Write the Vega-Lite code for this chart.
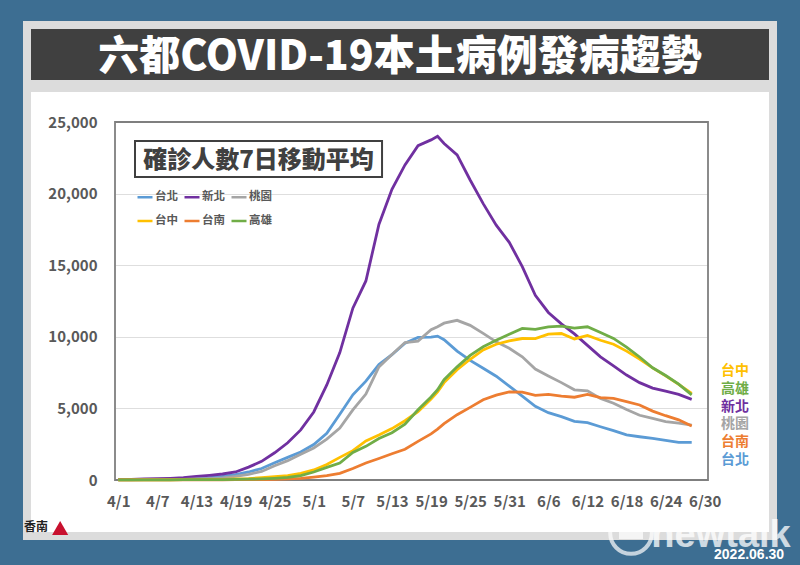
{
  "$schema": "https://vega.github.io/schema/vega-lite/v6.json",
  "background": "#3d6e92",
  "padding": {"left": 19, "top": 21, "right": 40, "bottom": 40},
  "spacing": -8,
  "config": {"font": "Noto Sans CJK TC", "view": {"stroke": null}},
  "datasets": {
    "series": [
      {"d":"2022-04-01","台北":20,"新北":30,"桃園":10,"台中":5,"台南":5,"高雄":10},
      {"d":"2022-04-03","台北":30,"新北":50,"桃園":15,"台中":5,"台南":5,"高雄":10},
      {"d":"2022-04-05","台北":40,"新北":70,"桃園":20,"台中":10,"台南":5,"高雄":10},
      {"d":"2022-04-07","台北":50,"新北":100,"桃園":30,"台中":10,"台南":5,"高雄":15},
      {"d":"2022-04-09","台北":60,"新北":120,"桃園":40,"台中":15,"台南":5,"高雄":15},
      {"d":"2022-04-11","台北":80,"新北":160,"桃園":50,"台中":20,"台南":10,"高雄":20},
      {"d":"2022-04-13","台北":120,"新北":250,"桃園":70,"台中":25,"台南":10,"高雄":20},
      {"d":"2022-04-15","台北":170,"新北":330,"桃園":100,"台中":35,"台南":10,"高雄":25},
      {"d":"2022-04-17","台北":250,"新北":420,"桃園":150,"台中":50,"台南":15,"高雄":30},
      {"d":"2022-04-19","台北":370,"新北":560,"桃園":260,"台中":70,"台南":20,"高雄":40},
      {"d":"2022-04-21","台北":560,"新北":900,"桃園":400,"台中":100,"台南":25,"高雄":55},
      {"d":"2022-04-23","台北":800,"新北":1300,"桃園":600,"台中":160,"台南":35,"高雄":80},
      {"d":"2022-04-25","台北":1210,"新北":1900,"桃園":1000,"台中":230,"台南":50,"高雄":120},
      {"d":"2022-04-27","台北":1580,"新北":2600,"桃園":1350,"台中":300,"台南":80,"高雄":180},
      {"d":"2022-04-29","台北":1950,"新北":3500,"桃園":1800,"台中":470,"台南":120,"高雄":300},
      {"d":"2022-05-01","台北":2480,"新北":4750,"桃園":2240,"台中":700,"台南":200,"高雄":560},
      {"d":"2022-05-03","台北":3260,"新北":6640,"桃園":2850,"台中":1080,"台南":300,"高雄":880},
      {"d":"2022-05-05","台北":4590,"新北":8900,"桃園":3620,"台中":1580,"台南":460,"高雄":1180},
      {"d":"2022-05-07","台北":5950,"新北":12000,"桃園":4900,"台中":2050,"台南":800,"高雄":1920},
      {"d":"2022-05-09","台北":6900,"新北":13900,"桃園":6000,"台中":2730,"台南":1190,"高雄":2350},
      {"d":"2022-05-11","台北":8060,"新北":17850,"桃園":7900,"台中":3140,"台南":1500,"高雄":2900},
      {"d":"2022-05-13","台北":8750,"新北":20300,"桃園":8770,"台中":3590,"台南":1830,"高雄":3300},
      {"d":"2022-05-15","台北":9550,"新北":22000,"桃園":9600,"台中":4140,"台南":2150,"高雄":3900},
      {"d":"2022-05-17","台北":9960,"新北":23350,"桃園":9700,"台中":4780,"台南":2700,"高雄":4900},
      {"d":"2022-05-19","台北":9980,"新北":23750,"桃園":10500,"台中":5660,"台南":3220,"高雄":5800},
      {"d":"2022-05-20","台北":10050,"新北":24000,"桃園":10700,"台中":6150,"台南":3550,"高雄":6300},
      {"d":"2022-05-21","台北":9800,"新北":23500,"桃園":10950,"台中":6800,"台南":3930,"高雄":7000},
      {"d":"2022-05-23","台北":9000,"新北":22700,"桃園":11150,"台中":7700,"台南":4560,"高雄":7900},
      {"d":"2022-05-25","台北":8350,"新北":20950,"桃園":10800,"台中":8430,"台南":5070,"高雄":8700},
      {"d":"2022-05-27","台北":7800,"新北":19300,"桃園":10240,"台中":9080,"台南":5600,"高雄":9300},
      {"d":"2022-05-29","台北":7250,"新北":17800,"桃園":9650,"台中":9480,"台南":5930,"高雄":9760},
      {"d":"2022-05-31","台北":6550,"新北":16600,"桃園":9200,"台中":9720,"台南":6150,"高雄":10180},
      {"d":"2022-06-02","台北":5850,"新北":14900,"桃園":8600,"台中":9880,"台南":6130,"高雄":10590},
      {"d":"2022-06-04","台北":5150,"新北":12900,"桃園":7750,"台中":9870,"台南":5910,"高雄":10520},
      {"d":"2022-06-06","台北":4700,"新北":11700,"桃園":7270,"台中":10180,"台南":5980,"高雄":10700},
      {"d":"2022-06-08","台北":4430,"新北":10900,"桃園":6800,"台中":10230,"台南":5860,"高雄":10740},
      {"d":"2022-06-10","台北":4100,"新北":10200,"桃園":6300,"台中":9850,"台南":5780,"高雄":10600},
      {"d":"2022-06-12","台北":4000,"新北":9400,"桃園":6230,"台中":10100,"台南":5980,"高雄":10700},
      {"d":"2022-06-14","台北":3720,"新北":8600,"桃園":5700,"台中":9760,"台南":5750,"高雄":10300},
      {"d":"2022-06-16","台北":3450,"新北":7970,"桃園":5360,"台中":9480,"台南":5700,"高雄":9890},
      {"d":"2022-06-18","台北":3150,"新北":7330,"桃園":4920,"台中":9000,"台南":5470,"高雄":9280},
      {"d":"2022-06-20","台北":3020,"新北":6800,"桃園":4520,"台中":8450,"台南":5240,"高雄":8590},
      {"d":"2022-06-22","台北":2900,"新北":6420,"桃園":4300,"台中":7830,"台南":4810,"高雄":7840},
      {"d":"2022-06-24","台北":2770,"新北":6200,"桃園":4080,"台中":7270,"台南":4490,"高雄":7300},
      {"d":"2022-06-26","台北":2630,"新北":5980,"桃園":3970,"台中":6680,"台南":4200,"高雄":6700},
      {"d":"2022-06-28","台北":2630,"新北":5630,"桃園":3840,"台中":6050,"台南":3770,"高雄":5940}
    ],
    "labels": [
      {"city":"台中"},{"city":"高雄"},{"city":"新北"},{"city":"桃園"},{"city":"台南"},{"city":"台北"}
    ]
  },
  "vconcat": [
    {
      "width": 746,
      "height": 59,
      "view": {"fill": "#404040", "stroke": "#dcdcdc", "strokeWidth": 8},
      "data": {"values": [{"t": "六都COVID-19本土病例發病趨勢"}]},
      "mark": {"type": "text", "fontSize": 41, "fontWeight": 900, "color": "#ffffff", "font": "Noto Sans CJK TC", "baseline": "middle", "align": "center", "dy": 3},
      "encoding": {"text": {"field": "t", "type": "nominal"}}
    },
    {
      "width": 746,
      "height": 448,
      "view": {"fill": "#ffffff", "stroke": "#dcdcdc", "strokeWidth": 8},
      "resolve": {"scale": {"y": "independent"}},
      "layer": [
        {
          "layer": [
            {
              "data": {"values": [{}]},
              "mark": {"type": "rect", "fill": "#ffffff", "fillOpacity": 0, "stroke": "#7f7f7f", "strokeWidth": 1.8},
              "encoding": {
                "x": {"datum": {"year": 2022, "month": 3, "date": 31, "hours": 12, "utc": true}, "type": "temporal"},
                "x2": {"datum": {"year": 2022, "month": 6, "date": 30, "hours": 12, "utc": true}},
                "y": {"datum": 0, "type": "quantitative"},
                "y2": {"datum": 25000}
              }
            },
            {
              "data": {"name": "series"},
              "transform": [{"fold": ["台北", "新北", "桃園", "台中", "台南", "高雄"], "as": ["city", "v"]}],
              "mark": {"type": "line", "strokeWidth": 2.8},
              "encoding": {
                "x": {
                  "field": "d", "type": "temporal",
                  "scale": {
                    "type": "utc",
                    "domain": [
                      {"year": 2022, "month": 3, "date": 31, "hours": 12, "utc": true},
                      {"year": 2022, "month": 6, "date": 30, "hours": 12, "utc": true}
                    ],
                    "range": [88, 681]
                  },
                  "axis": {
                    "orient": "bottom", "offset": -56, "title": null,
                    "values": [
                      {"year": 2022, "month": 4, "date": 1, "utc": true},
                      {"year": 2022, "month": 4, "date": 7, "utc": true},
                      {"year": 2022, "month": 4, "date": 13, "utc": true},
                      {"year": 2022, "month": 4, "date": 19, "utc": true},
                      {"year": 2022, "month": 4, "date": 25, "utc": true},
                      {"year": 2022, "month": 5, "date": 1, "utc": true},
                      {"year": 2022, "month": 5, "date": 7, "utc": true},
                      {"year": 2022, "month": 5, "date": 13, "utc": true},
                      {"year": 2022, "month": 5, "date": 19, "utc": true},
                      {"year": 2022, "month": 5, "date": 25, "utc": true},
                      {"year": 2022, "month": 5, "date": 31, "utc": true},
                      {"year": 2022, "month": 6, "date": 6, "utc": true},
                      {"year": 2022, "month": 6, "date": 12, "utc": true},
                      {"year": 2022, "month": 6, "date": 18, "utc": true},
                      {"year": 2022, "month": 6, "date": 24, "utc": true},
                      {"year": 2022, "month": 6, "date": 30, "utc": true}
                    ],
                    "format": "%-m/%-d",
                    "grid": false, "ticks": false, "domain": false,
                    "labelFlush": false, "labelOverlap": false,
                    "labelPadding": 14, "labelFontSize": 15, "labelFontWeight": "bold",
                    "labelColor": "#595959", "labelFont": "Noto Sans CJK TC"
                  }
                },
                "y": {
                  "field": "v", "type": "quantitative",
                  "scale": {"domain": [0, 25000], "range": [392, 34], "nice": false},
                  "axis": {
                    "orient": "left", "offset": -88, "title": null,
                    "values": [0, 5000, 10000, 15000, 20000, 25000],
                    "format": ",d",
                    "grid": true, "gridColor": "#dedede", "gridWidth": 1,
                    "ticks": false, "domain": false,
                    "labelPadding": 18, "labelFontSize": 15, "labelFontWeight": "bold",
                    "labelColor": "#595959", "labelFont": "Noto Sans CJK TC"
                  }
                },
                "color": {
                  "field": "city", "type": "nominal",
                  "scale": {
                    "domain": ["台北", "新北", "桃園", "台中", "台南", "高雄"],
                    "range": ["#5b9bd5", "#7030a0", "#a5a5a5", "#ffc000", "#ed7d31", "#70ad47"]
                  },
                  "legend": {
                    "orient": "none", "legendX": 109, "legendY": 163,
                    "direction": "horizontal", "columns": 3, "title": null,
                    "symbolType": "stroke", "symbolSize": 225, "symbolStrokeWidth": 2.5,
                    "labelFontSize": 11.5, "labelFontWeight": "bold", "labelColor": "#595959",
                    "labelFont": "Noto Sans CJK TC", "labelOffset": 1,
                    "columnPadding": 1, "rowPadding": 9
                  }
                }
              }
            },
            {
              "data": {"values": [{}]},
              "mark": {"type": "rect", "fill": "#ffffff", "stroke": "#404040", "strokeWidth": 2},
              "encoding": {
                "x": {"datum": {"year": 2022, "month": 4, "date": 3, "hours": 13, "minutes": 40, "utc": true}, "type": "temporal"},
                "x2": {"datum": {"year": 2022, "month": 5, "date": 11, "hours": 11, "minutes": 30, "utc": true}},
                "y": {"datum": 23673, "type": "quantitative"},
                "y2": {"datum": 21159}
              }
            },
            {
              "data": {"values": [{"t": "確診人數7日移動平均"}]},
              "mark": {"type": "text", "fontSize": 24, "fontWeight": 900, "color": "#404040", "font": "Noto Sans CJK TC", "align": "center", "baseline": "middle", "dy": 1},
              "encoding": {
                "x": {"datum": {"year": 2022, "month": 4, "date": 22, "hours": 12, "minutes": 30, "utc": true}, "type": "temporal"},
                "y": {"datum": 22380, "type": "quantitative"},
                "text": {"field": "t"}
              }
            },
            {
              "data": {"values": [{"t": "香南"}]},
              "mark": {"type": "text", "fontSize": 12, "fontWeight": "bold", "color": "#222222", "font": "Noto Sans CJK TC", "align": "center", "baseline": "middle"},
              "encoding": {
                "x": {"datum": {"year": 2022, "month": 3, "date": 19, "hours": 9, "utc": true}, "type": "temporal"},
                "y": {"datum": -3282, "type": "quantitative"},
                "text": {"field": "t"}
              }
            },
            {
              "data": {"values": [{}]},
              "mark": {"type": "point", "shape": "triangle-up", "filled": true, "color": "#c8102e", "size": 260, "opacity": 1},
              "encoding": {
                "x": {"datum": {"year": 2022, "month": 3, "date": 23, "hours": 2, "utc": true}, "type": "temporal"},
                "y": {"datum": -3350, "type": "quantitative"}
              }
            },
            {
              "data": {"values": [{}]},
              "mark": {"type": "point", "shape": "circle", "filled": false, "stroke": "#ffffff", "strokeWidth": 4, "size": 1735, "opacity": 0.7},
              "encoding": {
                "x": {"datum": {"year": 2022, "month": 6, "date": 18, "hours": 16, "minutes": 30, "utc": true}, "type": "temporal"},
                "y": {"datum": -3701, "type": "quantitative"}
              }
            },
            {
              "data": {"values": [{}]},
              "mark": {"type": "point", "shape": "M-1,-0.5 L1,-0.5 L1,0.5 L-1,0.5 Z", "filled": true, "color": "#ffffff", "size": 576, "opacity": 0.7},
              "encoding": {
                "x": {"datum": {"year": 2022, "month": 6, "date": 18, "hours": 16, "minutes": 30, "utc": true}, "type": "temporal"},
                "y": {"datum": -3701, "type": "quantitative"}
              }
            },
            {
              "data": {"values": [{"t": "newtalk"}]},
              "mark": {"type": "text", "font": "Liberation Sans", "fontSize": 38, "fontWeight": "bold", "color": "#ffffff", "opacity": 0.75, "align": "center", "baseline": "alphabetic"},
              "encoding": {
                "x": {"datum": {"year": 2022, "month": 7, "date": 2, "hours": 12, "utc": true}, "type": "temporal"},
                "y": {"datum": -4679, "type": "quantitative"},
                "text": {"field": "t"}
              }
            },
            {
              "data": {"values": [{"t": "2022.06.30"}]},
              "mark": {"type": "text", "font": "Liberation Sans", "fontSize": 14, "fontWeight": "bold", "color": "#ffffff", "align": "center", "baseline": "middle"},
              "encoding": {
                "x": {"datum": {"year": 2022, "month": 7, "date": 6, "hours": 19, "minutes": 12, "utc": true}, "type": "temporal"},
                "y": {"datum": -5238, "type": "quantitative"},
                "text": {"field": "t"}
              }
            }
          ]
        },
        {
          "data": {"name": "labels"},
          "mark": {"type": "text", "fontSize": 14, "fontWeight": "bold", "font": "Noto Sans CJK TC", "align": "center", "baseline": "middle"},
          "encoding": {
            "x": {"datum": {"year": 2022, "month": 7, "date": 4, "hours": 15, "minutes": 36, "utc": true}, "type": "temporal"},
            "y": {
              "field": "city", "type": "nominal",
              "scale": {"type": "point", "domain": ["台中", "高雄", "新北", "桃園", "台南", "台北"], "range": [283, 372], "padding": 0},
              "axis": null
            },
            "text": {"field": "city"},
            "color": {"field": "city", "type": "nominal"}
          }
        }
      ]
    }
  ]
}
